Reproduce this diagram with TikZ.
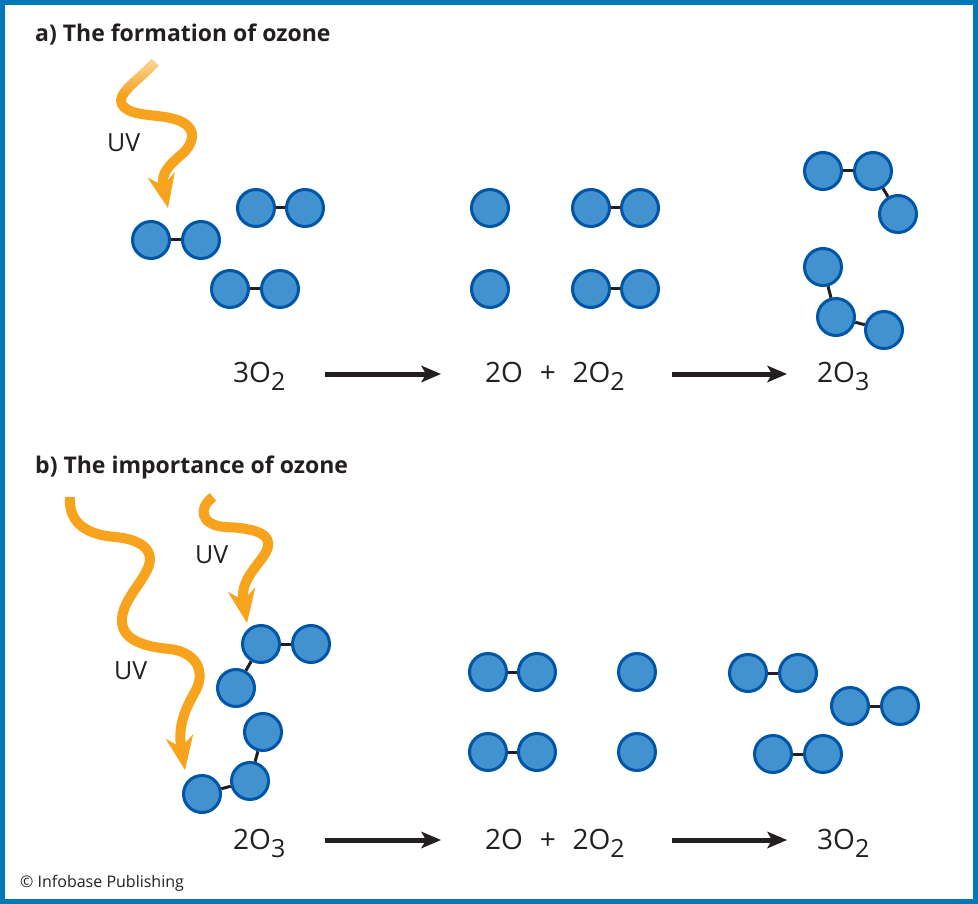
\documentclass[tikz,border=0pt]{standalone}
\usepackage{fontspec}
\setmainfont{Open Sans}
\usetikzlibrary{arrows.meta,fadings}
\definecolor{atomfill}{RGB}{66,146,208}
\definecolor{atomline}{RGB}{0,86,166}
\definecolor{uvorange}{RGB}{247,163,30}
\definecolor{frameblue}{RGB}{0,121,184}
\definecolor{inkgray}{RGB}{35,31,32}
\newcommand\chemsub[1]{\raisebox{-0.3em}{\fontsize{25}{25}\selectfont #1}}
\newcommand\chemplus{\hspace{0.6em}+\hspace{0.6em}}

\begin{document}
\begin{tikzpicture}[x=1pt,y=-1pt]
    \tikzset{%
      atom/.style={circle, draw=atomline, fill=atomfill, line width=3pt,
        minimum size=37pt, inner sep=0pt},
      bond/.style={draw=inkgray, line width=3pt},
      uvray/.style={draw=uvorange, line width=10pt,
        -{Stealth[length=34pt, width=28pt, inset=11pt, line width=0pt]}},
      react/.style={draw=inkgray, line width=5pt,
        -{Stealth[length=20pt, width=17pt, inset=5pt, line width=0pt]}},
      formula/.style={anchor=base west, inner sep=0pt, text=inkgray,
        font=\fontsize{28}{28}\selectfont},
      heading/.style={anchor=base west, inner sep=0pt, text=inkgray,
        font=\fontsize{23}{23}\selectfont\bfseries},
      uvlabel/.style={anchor=base west, inner sep=0pt, text=inkgray,
        font=\fontsize{25}{25}\selectfont}}

    \useasboundingbox (0,0) rectangle (978,904);
    \draw[draw=frameblue, line width=5pt] (2.5,2.5) rectangle (975.5,901.5);

    % a) three O2 split by UV, then recombine to O3
    \node[heading] (ta) at (35,42) {a) The formation of ozone};
    \foreach \n/\x/\y in {a1/151/240, a2/201/240, a3/256/208, a4/305/208, a5/230/289, a6/280/289,
                          a7/490/208, a8/490/289, a9/591/208, a10/640/208, a11/591/289, a12/640/289,
                          a13/823/171, a14/873/171, a15/898/214, a16/823/267, a17/836/317, a18/884/330}
      \node[atom] (\n) at (\x,\y) {};
    \foreach \p/\q in {a1/a2, a3/a4, a5/a6, a9/a10, a11/a12, a13/a14, a14/a15, a16/a17, a17/a18}
      \draw[bond] (\p) -- (\q);

    \coordinate (uva) at (155,62);
    \coordinate (uvatip) at (168,208);
    \draw[uvray] (uva) .. controls (140,80) and (112,95) .. (124,107)
      .. controls (135,118) and (165,113) .. (182,122)
      .. controls (198,130) and (193,145) .. (181,155)
      .. controls (168,166) and (161,174) .. (uvatip);
    \fill[white, opacity=0.6, path fading=south] (105,56) rectangle (175,95);
    \node[uvlabel] (uvla) at (107,152) {UV};

    \node[formula] (fa1) at (233,382) {3O\chemsub{2}};
    \node[formula] (fa2) at (485,382) {2O\chemplus 2O\chemsub{2}};
    \node[formula] (fa3) at (817,382) {2O\chemsub{3}};
    \coordinate (ra1) at (325,374);
    \coordinate (ra2) at (441,374);
    \coordinate (ra3) at (672,374);
    \coordinate (ra4) at (787,374);
    \draw[react] (ra1) -- (ra2);
    \draw[react] (ra3) -- (ra4);

    % b) UV breaks O3 apart, giving back O2
    \node[heading] (tb) at (35,473) {b) The importance of ozone};
    \foreach \n/\x/\y in {b1/261/644, b2/311/644, b3/236/688, b4/263/732, b5/250/781, b6/202/794,
                          b7/488/672, b8/537/672, b9/488/752, b10/537/752, b11/637/672, b12/637/752,
                          b13/748/673, b14/798/673, b15/850/706, b16/900/706, b17/773/754, b18/823/754}
      \node[atom] (\n) at (\x,\y) {};
    \foreach \p/\q in {b1/b2, b1/b3, b4/b5, b5/b6, b7/b8, b9/b10, b13/b14, b15/b16, b17/b18}
      \draw[bond] (\p) -- (\q);

    \coordinate (uvb) at (70,497);
    \coordinate (uvbtip) at (185,770);
    \draw[uvray] (uvb) .. controls (68,525) and (90,535) .. (115,537)
      .. controls (140,539) and (157,550) .. (147,570)
      .. controls (140,585) and (124,600) .. (122,618)
      .. controls (120,640) and (145,647) .. (170,649)
      .. controls (195,652) and (206,670) .. (196,690)
      .. controls (189,703) and (177,722) .. (uvbtip);
    \coordinate (uvc) at (213,497);
    \coordinate (uvctip) at (247,623);
    \draw[uvray] (uvc) .. controls (198,508) and (200,525) .. (225,527)
      .. controls (250,528) and (276,532) .. (266,552)
      .. controls (259,565) and (240,580) .. (uvctip);
    \node[uvlabel] (uvlc) at (195,563) {UV};
    \node[uvlabel] (uvlb) at (114,679) {UV};

    \node[formula] (fb1) at (233,849) {2O\chemsub{3}};
    \node[formula] (fb2) at (485,849) {2O\chemplus 2O\chemsub{2}};
    \node[formula] (fb3) at (817,849) {3O\chemsub{2}};
    \coordinate (rb1) at (325,840);
    \coordinate (rb2) at (441,840);
    \coordinate (rb3) at (672,840);
    \coordinate (rb4) at (787,840);
    \draw[react] (rb1) -- (rb2);
    \draw[react] (rb3) -- (rb4);

    \node[anchor=base west, inner sep=0pt, text=inkgray, font=\fontsize{16}{16}\selectfont]
      (credit) at (20,887) {\textcopyright{} Infobase Publishing};
\end{tikzpicture}
\end{document}
